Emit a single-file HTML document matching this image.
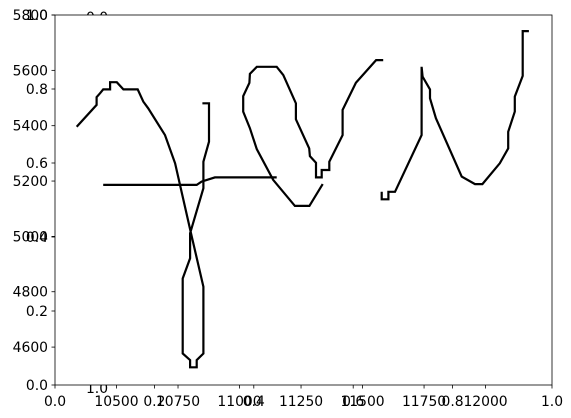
<!DOCTYPE html>
<html><head><meta charset="utf-8"><style>
html,body{margin:0;padding:0;background:#fff;}
svg{display:block;font-family:"DejaVu Sans","Liberation Sans",sans-serif;}
</style></head><body>
<svg id="chart" width="571" height="418" viewBox="0 0 571 418" xmlns="http://www.w3.org/2000/svg">
<text x="97" y="22" font-size="13.9" text-anchor="middle">0.0</text>
<text x="97" y="393" font-size="13.9" text-anchor="middle">1.0</text>
<rect x="55" y="15" width="497" height="370" fill="#fff"/>
<g id="marks"></g>
<g id="axes"></g>
<rect x="55" y="15" width="497" height="370" fill="none" stroke="#000" stroke-width="0.8"/>
</svg>
<script>
const xTicks = [10500, 10750, 11000, 11250, 11500, 11750, 12000];
const yTicks = [4600, 4800, 5000, 5200, 5400, 5600, 5800];
const unitTicks = [0.0, 0.2, 0.4, 0.6, 0.8, 1.0];
const seriesAx = [10338,10419,10419,10433,10446,10474,10474,10501,10528,10586,10609,10629,10697,10738,10758,10806,10853,10853,10826,10826,10799,10799,10769,10769,10799,10799,10853,10853,10876,10876,10849];
const seriesAy = [5396,5475,5503,5517,5531,5531,5557,5557,5531,5531,5487,5463,5366,5264,5186,4999,4818,4577,4553,4527,4527,4553,4577,4848,4921,5011,5174,5270,5342,5481,5481];
const seriesHx = [10446,10826,10846,10900,11151];
const seriesHy = [5186,5186,5198,5213,5213];
const seriesBx = [11338,11284,11225,11137,11070,11042,11015,11015,11040,11042,11070,11151,11178,11229,11229,11283,11286,11311,11311,11334,11334,11365,11365,11419,11419,11473,11555,11584];
const seriesBy = [5189,5110,5110,5204,5315,5391,5451,5507,5555,5587,5613,5613,5583,5481,5423,5318,5290,5266,5213,5213,5240,5240,5270,5366,5457,5555,5637,5637];
const seriesCx = [11578,11578,11605,11605,11632,11740,11740,11744,11774,11774,11798,11903,11957,11987,12058,12092,12092,12119,12119,12151,12151,12176];
const seriesCy = [5161,5134,5134,5161,5161,5366,5613,5577,5531,5499,5427,5216,5189,5189,5264,5318,5378,5451,5505,5580,5742,5742];

const L=55,R=552,T=15,B=385;
const X0=10250,X1=12270,Y0=4463,Y1=5800;
const sx=v=>L+(v-X0)/(X1-X0)*(R-L);
const sy=v=>B-(v-Y0)/(Y1-Y0)*(B-T);
const ux=v=>L+v*(R-L);
const uy=v=>B-v*(B-T);
const NS="http://www.w3.org/2000/svg";
const marks=document.getElementById('marks');
const axes=document.getElementById('axes');
function mk(tag,attrs,parent){const e=document.createElementNS(NS,tag);for(const k in attrs)e.setAttribute(k,attrs[k]);parent.appendChild(e);return e;}
const series=[[seriesAx,seriesAy,'series-a-line'],[seriesHx,seriesHy,'series-h-line'],[seriesBx,seriesBy,'series-b-line'],[seriesCx,seriesCy,'series-c-line']];
series.forEach(s=>{
  const pts=s[0].map((v,i)=>sx(v).toFixed(1)+','+sy(s[1][i]).toFixed(1)).join(' ');
  const p=mk('polyline',{points:pts,fill:'none',stroke:'#000','stroke-width':2.2,'stroke-linejoin':'miter'},marks);
  
  
});
function tick(x1,y1,x2,y2,name){const t=mk('line',{x1,y1,x2,y2,stroke:'#000','stroke-width':0.8},axes);
  
  }
function label(x,y,txt,anchor,name){const t=mk('text',{x,y,'font-size':13.9,'text-anchor':anchor,fill:'#000'},axes);t.textContent=txt;
  
  }
xTicks.forEach(v=>{const x=sx(v);tick(x,B,x,B+3.5,'x-tick');label(x,B+21,String(v),'middle','x-tick-label');});
yTicks.forEach(v=>{const y=sy(v);tick(L,y,L-3.5,y,'y-tick');label(L-7,y+5,String(v),'end','y-tick-label');});
unitTicks.forEach(v=>{const x=ux(v);tick(x,B,x,B+3.5,'unit-x-tick');label(x,B+21,v.toFixed(1),'middle','unit-x-tick-label');
  const y=uy(v);tick(L,y,L-3.5,y,'unit-y-tick');label(L-7,y+5,v.toFixed(1),'end','unit-y-tick-label');});
</script>
</body></html>
